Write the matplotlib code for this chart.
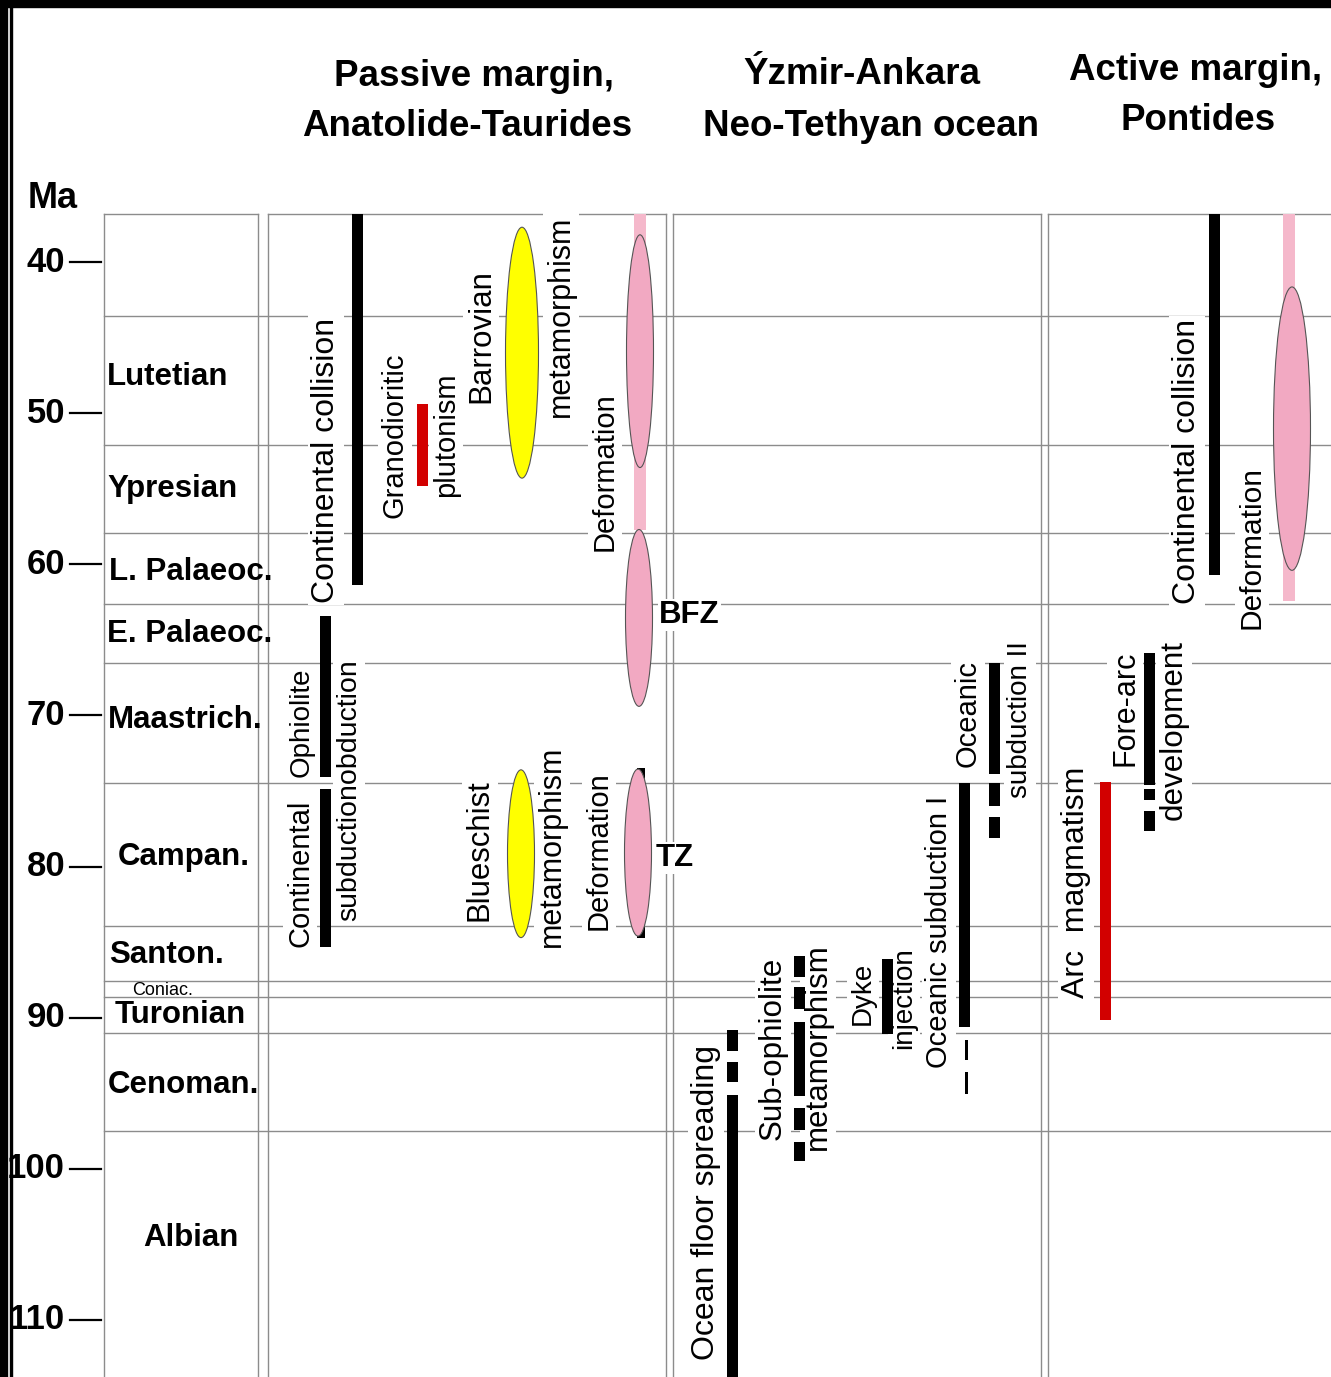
import matplotlib
matplotlib.use("Agg")
import matplotlib.pyplot as plt
from matplotlib.patches import Ellipse, Rectangle

W, H = 1331, 1377
PX_PER_MA = 15.114
MA_TOP = 40 - 262 / PX_PER_MA
MA_BOTTOM = MA_TOP + H / PX_PER_MA

# time scale (Ma)
tick_ma = [40, 50, 60, 70, 80, 90, 100, 110]
stage_bounds = [43.6, 52.1, 57.9, 62.6, 66.5, 74.5, 83.9, 87.6, 88.6, 91.0, 97.5]
stage_names = ["Lutetian", "Ypresian", "L. Palaeoc.", "E. Palaeoc.", "Maastrich.",
               "Campan.", "Santon.", "Coniac.", "Turonian", "Cenoman.", "Albian"]
stage_label_ma = [47.6, 55.0, 60.5, 64.6, 70.3, 79.4, 85.85, 88.2, 89.8, 94.45, 104.6]
stage_label_x = [107, 107, 109, 107, 108, 118, 109, 132, 115, 108, 143]
col_top = 36.8

# passive margin events (start, end Ma)
cont_collision_pm = [(36.8, 61.4)]
ophiolite_obduction = [(63.4, 74.1)]
cont_subduction = [(74.9, 85.3)]
granodioritic_plutonism = [(49.4, 54.8)]
barrovian_meta = (37.7, 54.3)
blueschist_meta = (73.6, 84.7)
deformation_pm = [(38.2, 53.6), (57.7, 69.4), (73.55, 84.6)]
deformation_pm_stripe = (36.85, 57.7)
tz_fault = [(73.5, 84.75)]

# Izmir-Ankara ocean events
ocean_spreading = [(90.8, 92.2), (92.9, 94.25), (95.1, 113.8)]
sub_ophiolite_meta = [(85.9, 87.3), (88.0, 89.4), (90.3, 95.2), (96.0, 97.4), (98.2, 99.5)]
dyke_injection = [(86.1, 91.1)]
oceanic_subduction_1 = [(74.5, 90.6)]
oceanic_subduction_1_unc = [(91.5, 92.8), (93.6, 95.05)]
oceanic_subduction_2 = [(66.5, 73.9), (74.5, 76.0), (76.7, 78.1)]

# active margin events
cont_collision_am = [(36.85, 60.7)]
deformation_am = [(41.65, 60.4)]
deformation_am_stripe = (36.85, 62.4)
fore_arc = [(65.9, 74.6), (74.9, 75.6), (76.3, 77.65)]
arc_magmatism = [(74.4, 90.15)]

plt.rcParams['font.family'] = ['Liberation Sans', 'DejaVu Sans']

fig = plt.figure(figsize=(W / 100, H / 100), dpi=100)
ax = fig.add_axes([0, 0, 1, 1])
ax.set_xlim(0, W)
ax.set_ylim(MA_BOTTOM, MA_TOP)
ax.axis('off')

GRID = '#8c8c8c'
PINK = '#f2a9c2'
PINK_LIGHT = '#f5b8cb'
RED = '#d20000'


def bars(x, segs, width=11, color='black', z=4):
    starts = [s for s, e in segs]
    lengths = [e - s for s, e in segs]
    ax.bar([x] * len(segs), lengths, bottom=starts, width=width, color=color,
           linewidth=0, zorder=z)


def ellipse(x, span, width, color):
    s, e = span
    ax.add_patch(Ellipse((x, (s + e) / 2), width, e - s, facecolor=color,
                         edgecolor='#555555', linewidth=0.8, zorder=5))


def vlabel(x, ma, s, size=22):
    ax.text(x, ma, s, rotation=90, ha='center', va='center', fontsize=size,
            zorder=3, bbox=dict(facecolor='white', edgecolor='none', pad=2))


# column boxes
for x in [104, 258, 268, 666, 673, 1041, 1048]:
    ax.plot([x, x], [col_top, MA_BOTTOM], color=GRID, lw=1, zorder=1)
for x0, x1 in [(104, 258), (268, 666), (673, 1041), (1048, W)]:
    ax.plot([x0, x1], [col_top, col_top], color=GRID, lw=1, zorder=1)
for b in stage_bounds:
    ax.plot([104, W], [b, b], color=GRID, lw=1, zorder=1)

# Ma axis
for t in tick_ma:
    ax.plot([70, 101], [t, t], color='black', lw=1.6, zorder=2)
    ax.text(65, t, str(t), ha='right', va='center', fontsize=25, fontweight='bold')
ax.text(53, 35.77, "Ma", ha='center', va='center', fontsize=26, fontweight='bold')

for name, ma, x in zip(stage_names, stage_label_ma, stage_label_x):
    if name == "Coniac.":
        ax.text(x, ma, name, ha='left', va='center', fontsize=13, zorder=3)
    else:
        ax.text(x, ma, name, ha='left', va='center', fontsize=22.5,
                fontweight='bold', zorder=3)

# headers
for x, y, s in [(474, 76, "Passive margin,"), (467, 127, "Anatolide-Taurides"),
                (862, 75, "Ýzmir-Ankara"), (871, 127, "Neo-Tethyan ocean"),
                (1196, 71, "Active margin,"), (1198, 121, "Pontides")]:
    fig.text(x / W, 1 - y / H, s, ha='center', va='center', fontsize=26.5,
             fontweight='bold')

# passive margin
bars(357, cont_collision_pm)
bars(325, ophiolite_obduction)
bars(325, cont_subduction)
bars(422, granodioritic_plutonism, color=RED)
ellipse(522, barrovian_meta, 33, '#ffff00')
ellipse(521, blueschist_meta, 27, '#ffff00')
s, e = deformation_pm_stripe
ax.bar(640, e - s, bottom=s, width=12, color=PINK_LIGHT, linewidth=0, zorder=4)
bars(641, tz_fault, width=8)
for span, x in zip(deformation_pm, [640, 639, 638]):
    ellipse(x, span, 27, PINK)

vlabel(326, 53.1, "Continental collision", 23)
vlabel(302, 70.44, "Ophiolite", 20)
vlabel(349, 74.93, "subductionobduction", 20.5)
vlabel(300, 80.43, "Continental", 21)
vlabel(395, 51.45, "Granodioritic", 21)
vlabel(446, 51.45, "plutonism", 21)
vlabel(481, 44.9, "Barrovian", 22.5)
vlabel(561, 43.57, "metamorphism", 22)
vlabel(605, 53.9, "Deformation", 21)
vlabel(480, 78.9, "Blueschist", 22.4)
vlabel(552, 78.64, "metamorphism", 22)
vlabel(599, 78.97, "Deformation", 21)
for x, ma, s in [(659, 63.36, "BFZ"), (656, 79.43, "TZ")]:
    ax.text(x, ma, s, ha='left', va='center', fontsize=22.5, fontweight='bold',
            zorder=3, bbox=dict(facecolor='white', edgecolor='none', pad=1))

# ocean
bars(732, ocean_spreading)
bars(799, sub_ophiolite_meta)
bars(887, dyke_injection)
bars(964, oceanic_subduction_1)
bars(966, oceanic_subduction_1_unc, width=3)
bars(994, oceanic_subduction_2)

vlabel(706, 102.2, "Ocean floor spreading", 23)
vlabel(773, 92.0, "Sub-ophiolite", 22.6)
vlabel(818, 91.94, "metamorphism", 22.5)
vlabel(863, 88.37, "Dyke", 20)
vlabel(904, 88.7, "injection", 20)
vlabel(939, 84.33, "Oceanic subduction I", 21)
vlabel(968, 69.84, "Oceanic", 21)
vlabel(1020, 70.3, "subduction II", 20)

# active margin
bars(1214, cont_collision_am)
s, e = deformation_am_stripe
ax.bar(1289, e - s, bottom=s, width=12, color=PINK_LIGHT, linewidth=0, zorder=4)
ellipse(1292, deformation_am[0], 37, PINK)
bars(1149, fore_arc)
bars(1105, arc_magmatism, color=RED)

vlabel(1187, 53.17, "Continental collision", 23)
vlabel(1252, 58.92, "Deformation", 21.5)
vlabel(1125, 69.5, "Fore-arc", 22)
vlabel(1174, 70.96, "development", 22.6)
vlabel(1076, 81.02, "Arc  magmatism", 23)

# black frame on top and left
fig.add_artist(Rectangle((0, 1 - 7 / H), 1, 7 / H, transform=fig.transFigure,
                         color='black', zorder=10))
fig.add_artist(Rectangle((0, 0), 7 / W, 1, transform=fig.transFigure,
                         color='black', zorder=10))
fig.add_artist(Rectangle((10 / W, 0), 2 / W, 1, transform=fig.transFigure,
                         color='black', zorder=10))

fig.savefig("out.png", dpi=100)
